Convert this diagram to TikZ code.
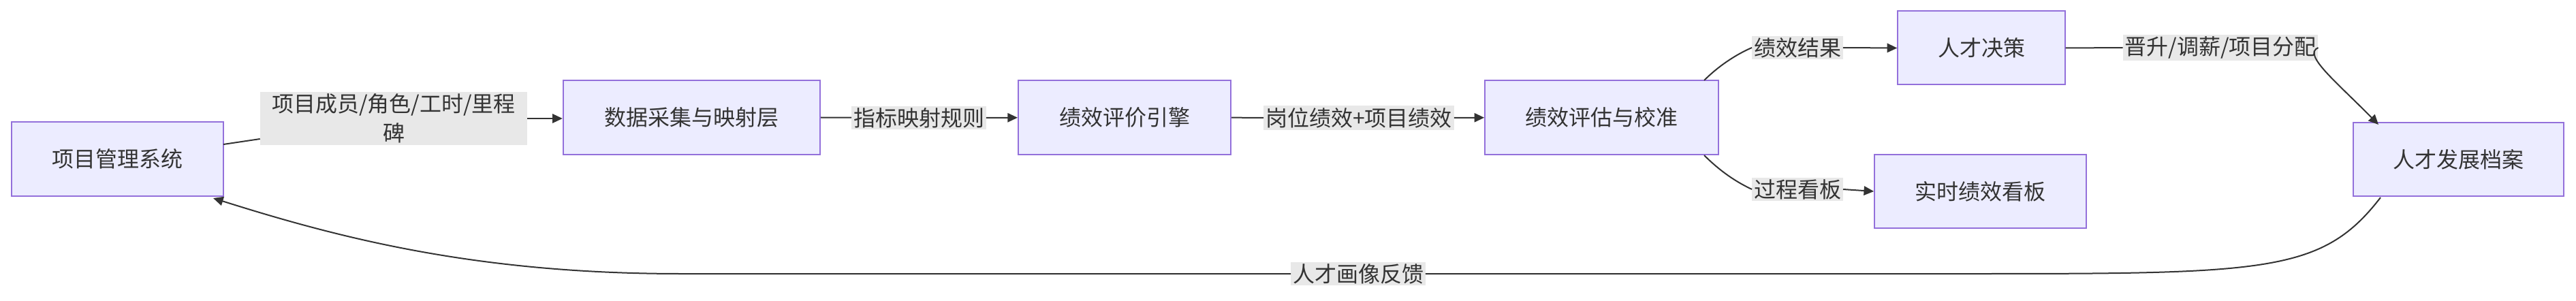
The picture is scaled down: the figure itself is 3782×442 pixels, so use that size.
\documentclass[tikz,border=0pt]{standalone}
\usepackage{fontspec}
\setmainfont{Noto Sans CJK SC}
\usetikzlibrary{arrows.meta}
\definecolor{boxfill}{HTML}{ECECFF}
\definecolor{boxline}{HTML}{9370DB}
\definecolor{lblfill}{HTML}{E8E8E8}
\definecolor{edge}{HTML}{333333}
\begin{document}
\begin{tikzpicture}[x=0.75pt,y=-0.75pt,
    every node/.style={font=\fontsize{24}{32}\selectfont,text=edge},
    box/.style={draw=boxline,fill=boxfill,line width=1.5pt,minimum height=81pt,inner sep=0pt},
    lbl/.style={fill=lblfill,inner sep=2pt,align=center},
    conn/.style={draw=edge,line width=1.5pt},
    arr/.style={conn,-{Triangle[length=11pt,width=10pt]}}]
            \useasboundingbox (0,0) rectangle (3782,442);
            \node[box,minimum width=233pt] (pm) at (172.5,233.5){项目管理系统};
            \node[box,minimum width=283pt] (data) at (1015.5,172.5){数据采集与映射层};
            \node[box,minimum width=234pt] (engine) at (1651,172.5){绩效评价引擎};
            \node[box,minimum width=257pt] (eval) at (2351.5,172.5){绩效评估与校准};
            \node[box,minimum width=184pt] (decide) at (2909,70.5){人才决策};
            \node[box,minimum width=233pt] (board) at (2907.5,281){实时绩效看板};
            \node[box,minimum width=232pt] (archive) at (3609.5,234){人才发展档案};

            \node[lbl,text width=290pt] (l1) at (578,174){项目成员/角色/工时/里程\\碑};
            \node[lbl] (l2) at (1349,173){指标映射规则};
            \node[lbl] (l3) at (1995,173){岗位绩效+项目绩效};
            \node[lbl] (l4) at (2639,70){绩效结果};
            \node[lbl] (l5) at (2639,278){过程看板};
            \node[lbl] (l6) at (3260,70){晋升/调薪/项目分配};
            \node[lbl] (l7) at (1994,402){人才画像反馈};

            \begin{scope}[on background layer/.try]
            \end{scope}
            \draw[conn] (328,212) -- (l1.west|-0,204);
            \draw[arr] (l1.east) -- (data.west|-0,174);
            \draw[conn] (data.east) -- (l2);
            \draw[arr] (l2) -- (engine);
            \draw[conn] (engine) -- (l3);
            \draw[arr] (l3) -- (eval);
            \draw[conn] (2502,118) .. controls (2530,90) and (2560,75) .. (l4.west);
            \draw[arr] (l4.east) -- (decide.west);
            \draw[conn] (2502,228) .. controls (2530,256) and (2555,270) .. (l5.west);
            \draw[arr] (l5.east) -- (board.west);
            \draw[conn] (decide.east) -- (l6.west);
            \draw[arr] (l6.east) .. controls (3380,80) and (3430,120) .. (3492,183);
            \draw[arr] (3495,290) .. controls (3410,400) and (3330,402) .. (2900,402)
                -- (l7.east) (l7.west) -- (1000,402)
                .. controls (700,402) and (500,350) .. (313,291);
\end{tikzpicture}
\end{document}
